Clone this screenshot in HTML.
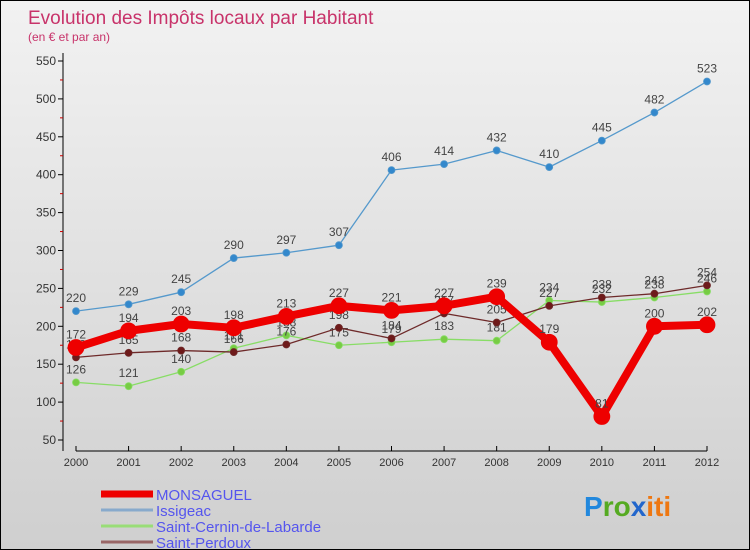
<!DOCTYPE html>
<html><head><meta charset="utf-8"><style>
body{margin:0;}
#c{width:750px;height:550px;position:relative;background:linear-gradient(#f2f2f2,#cfcfcf);box-sizing:border-box;border:1px solid #000;overflow:hidden;font-family:"Liberation Sans",sans-serif;}
</style></head><body>
<div id="c">
<svg id="s" width="750" height="550" style="position:absolute;left:0;top:0">
<text x="27" y="23" font-size="19" fill="#c8336a">Evolution des Impôts locaux par Habitant</text>
<text x="27" y="40" font-size="12" fill="#c8336a">(en € et par an)</text>
<g id="g"></g>
</svg>
</div>
<script>
const years=[2000,2001,2002,2003,2004,2005,2006,2007,2008,2009,2010,2011,2012];
const monsaguel=[172,194,203,198,213,227,221,227,239,179,81,200,202];
const issigeac=[220,229,245,290,297,307,406,414,432,410,445,482,523];
const cernin=[126,121,140,171,188,175,179,183,181,234,232,238,246];
const perdoux=[159,165,168,166,176,198,184,217,205,227,238,243,254];
const yTicks=[50,100,150,200,250,300,350,400,450,500,550];
const NS='http://www.w3.org/2000/svg';
const g=document.getElementById('g');
const X=i=>75+i*(706-75)/12;
const Y=v=>439-(v-50)*(379/500);
function el(t,a,p){const e=document.createElementNS(NS,t);for(const k in a)e.setAttribute(k,a[k]);(p||g).appendChild(e);return e;}
const ax=el('line',{x1:62,y1:52,x2:62,y2:450,stroke:'#000','stroke-width':1});


const bx=el('line',{x1:75,y1:450,x2:706,y2:450,stroke:'#000','stroke-width':1});


yTicks.forEach(v=>{
  el('line',{x1:57,y1:Y(v),x2:62,y2:Y(v),stroke:'#000'});
  if(v<550)el('line',{x1:59,y1:Y(v+25),x2:62,y2:Y(v+25),stroke:'#c00'});
  const t=el('text',{x:55,y:Y(v)+4,'font-size':12,'text-anchor':'end',fill:'#333'});
  t.textContent=v;
  
  
});
years.forEach((y,i)=>{
  el('line',{x1:X(i),y1:445,x2:X(i),y2:450,stroke:'#000'});
  const t=el('text',{x:X(i),y:465,'font-size':11,'text-anchor':'middle',fill:'#333'});
  t.textContent=y;
  
  
});
function series(d,color,w,r,name,dot){
  const l=el('polyline',{points:d.map((v,i)=>X(i)+','+Y(v)).join(' '),fill:'none',stroke:color,'stroke-width':w,'stroke-linejoin':'round'});
  
  
  d.forEach((v,i)=>{
    const c=el('circle',{cx:X(i),cy:Y(v),r:r,fill:dot,stroke:color,'stroke-width':0.8});
    
    
    const t=el('text',{x:X(i),y:Y(v)-9,'font-size':12,'text-anchor':'middle',fill:'#444'});
    t.textContent=v;
    
    
  });
}
series(cernin,'#88dd66',1.3,3.5,'cernin','#77cc44');
series(perdoux,'#6e2a2a',1.3,3.5,'perdoux','#6e1a1a');
series(issigeac,'#5599cc',1.3,3.5,'issigeac','#3388cc');
series(monsaguel,'#ee0000',8,8,'monsaguel','#ee0000');
const leg=[['MONSAGUEL','#ee0000',7],['Issigeac','#88aacc',3],['Saint-Cernin-de-Labarde','#99dd77',3],['Saint-Perdoux','#996666',3]];
leg.forEach((L,i)=>{
  const y=493+i*16;
  el('line',{x1:100,y1:y,x2:152,y2:y,stroke:L[1],'stroke-width':L[2]});
  const t=el('text',{x:155,y:y+6,'font-size':15,fill:'#5555ee'});
  t.textContent=L[0];
  
  
});
const p=el('text',{x:583,y:515,'font-size':28,'font-weight':'bold'});


[['P','#2288dd'],['ro','#55aa22'],['x','#2266cc'],['iti','#ee7711']].forEach(a=>{const s=el('tspan',{fill:a[1]},p);s.textContent=a[0];});
</script>
</body></html>
